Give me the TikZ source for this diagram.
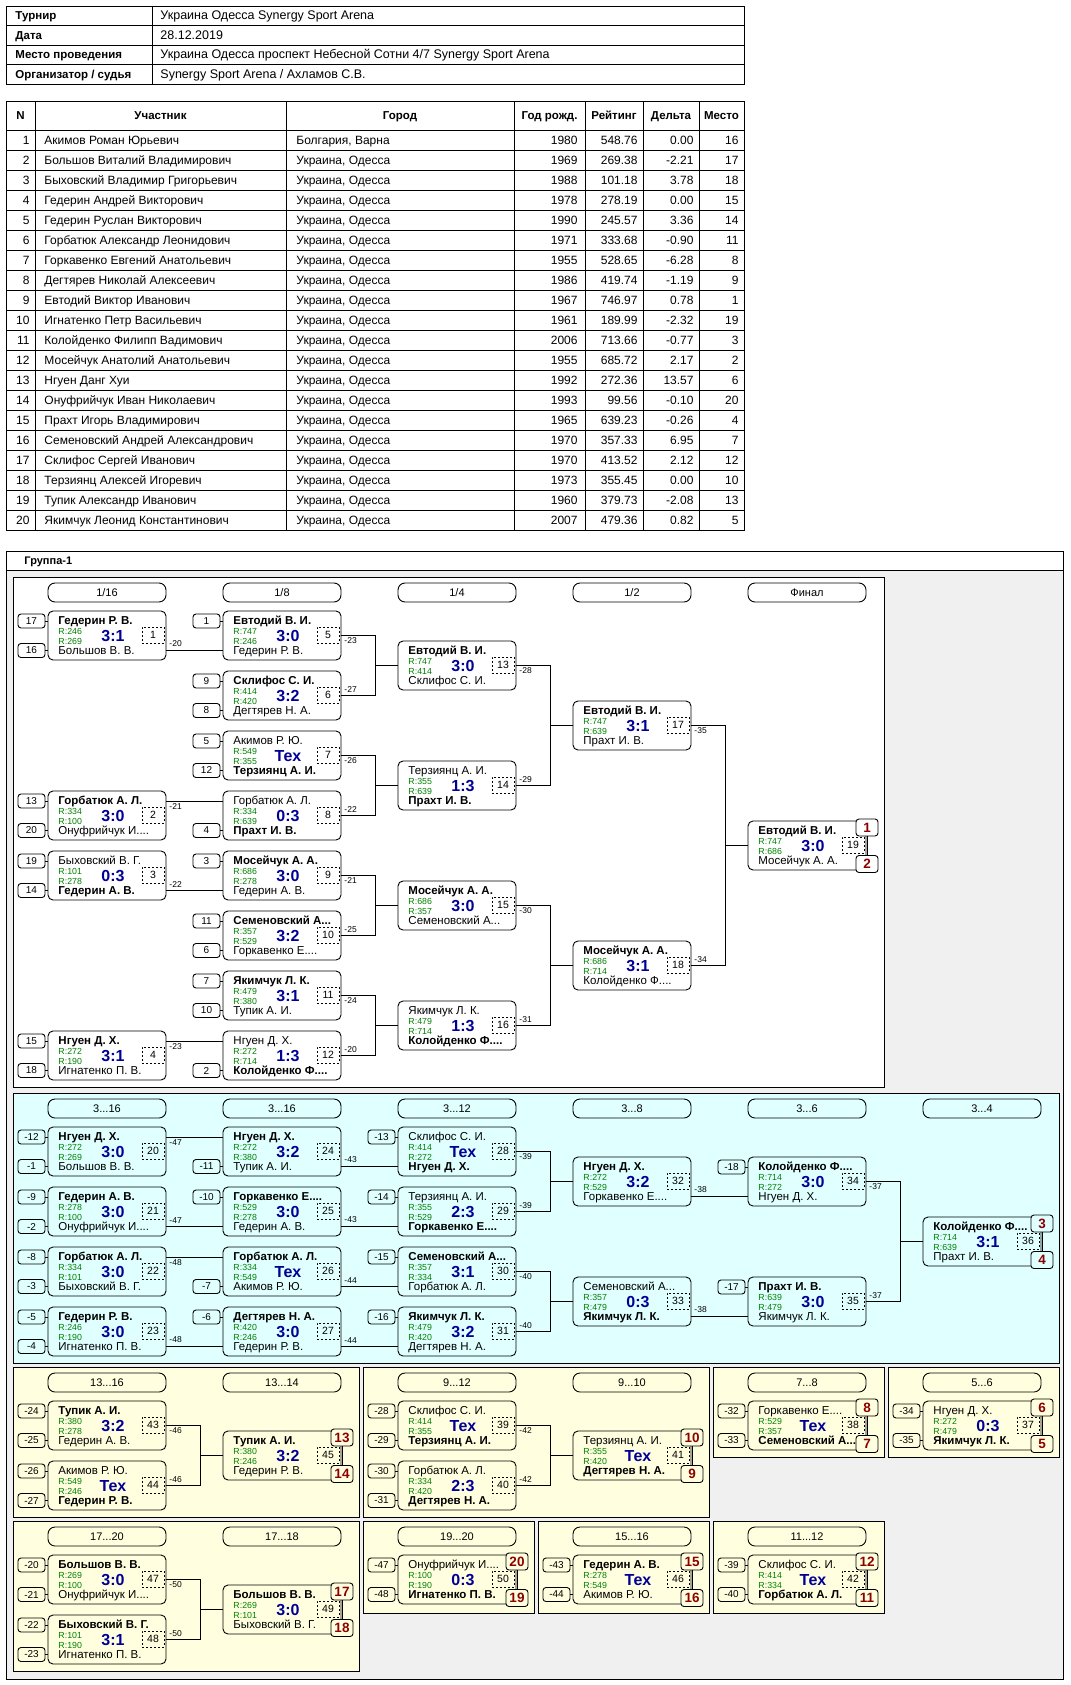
\documentclass[tikz,border=0pt]{standalone}
\usepackage{fontspec}
\setmainfont{Liberation Sans}

\definecolor{gbg}{RGB}{240,240,240}
\definecolor{cbg}{RGB}{224,255,255}
\definecolor{ybg}{RGB}{255,255,224}
\definecolor{rgreen}{RGB}{0,128,0}
\definecolor{sblue}{RGB}{0,0,150}
\definecolor{pred}{RGB}{140,0,0}

\newcommand{\win}[1]{\textbf{#1}}
\newcommand{\game}[9]{%
  \node[game] (#1) at (#2,#3) {};
  \coordinate (#1-tw) at (#2,#3+10);
  \coordinate (#1-bw) at (#2,#3+39);
  \coordinate (#1-te) at (#2+118,#3+10);
  \coordinate (#1-be) at (#2+118,#3+39);
  \node[plr] (#1-p1) at (#2+10,#3+13.5) {#4};
  \node[rat] (#1-r1) at (#2+10,#3+23) {R:#5};
  \node[rat] (#1-r2) at (#2+10,#3+33) {R:#7};
  \node[plr] (#1-p2) at (#2+10,#3+43.5) {#8};
  \node[score] (#1-sc) at (#2+65,#3+30.5) {#6};
  \node[num] (#1-n) at (#2+105,#3+24) {#9};
}
\newcommand{\seedt}[2]{%
  \node[seed] (#1-st) at ([xshift=-16.5pt,yshift=-10pt]#1.north west) {#2};
  \draw (#1-st) -- (#1-st -| #1.west);
}
\newcommand{\seedb}[2]{%
  \node[seed] (#1-sb) at ([xshift=-16.5pt,yshift=9.5pt]#1.south west) {#2};
  \draw (#1-sb) -- (#1-sb -| #1.west);
}
\newcommand{\places}[4]{%
  \node[plc, fill=#4] (#1-pt) at ([xshift=1pt,yshift=-6.5pt]#1.north east) {#2};
  \node[plc, fill=#4] (#1-pb) at ([xshift=1pt,yshift=6pt]#1.south east) {#3};
  \draw (#1-pt) -- (#1-pb);
}
\newcommand{\stage}[4]{\node[stage] (#1) at (#2+59,#3+15.5) {#4};}

\begin{document}
\begin{tikzpicture}[x=1pt, y=-1pt, line width=0.9pt,
  cell/.style={inner sep=0pt, font=\fontsize{12}{14}\selectfont},
  key/.style={inner sep=0pt, anchor=base west, font=\fontsize{11.5}{14}\selectfont\bfseries},
  head/.style={inner sep=0pt, anchor=base, font=\fontsize{11.5}{14}\selectfont\bfseries},
  game/.style={draw, rounded corners=5pt, anchor=north west, minimum width=118pt, minimum height=49pt, inner sep=0pt, outer sep=0pt},
  plr/.style={anchor=base west, inner sep=0pt, font=\fontsize{11.5}{12}\selectfont},
  rat/.style={anchor=base west, inner sep=0pt, text=rgreen, font=\fontsize{8.8}{10}\selectfont},
  score/.style={anchor=base, inner sep=0pt, text=sblue, font=\fontsize{16}{18}\selectfont\bfseries},
  num/.style={draw, dash pattern=on 2pt off 2pt, minimum width=22pt, minimum height=16pt, inner sep=0pt, font=\fontsize{10.5}{12}\selectfont},
  seed/.style={draw, rounded corners=3pt, minimum width=27pt, minimum height=14pt, inner sep=0pt, font=\fontsize{10}{12}\selectfont},
  plc/.style={draw, rounded corners=3pt, minimum width=22pt, minimum height=17pt, inner sep=0pt, text=pred, font=\fontsize{13.5}{15}\selectfont\bfseries},
  stage/.style={draw, rounded corners=7pt, minimum width=118pt, minimum height=19pt, inner sep=0pt, font=\fontsize{11}{12}\selectfont},
  lbla/.style={anchor=south west, inner sep=0pt, xshift=3pt, yshift=2.5pt, font=\fontsize{8.5}{10}\selectfont},
  lblb/.style={anchor=north west, inner sep=0pt, xshift=3pt, yshift=-2pt, font=\fontsize{8.5}{10}\selectfont}]

\useasboundingbox (0,0) rectangle (1070,1685);
\fill[white] (0,0) rectangle (1070,1685);

% tournament info
\draw (6,6) rectangle (744,84);
\foreach \yy in {25.5,45,64.5} \draw (6,\yy) -- (744,\yy);
\draw (152,6) -- (152,84);
\node[key] (k1) at (15,20) {Турнир};
\node[cell, anchor=base west, font=\fontsize{12.5}{14}\selectfont] (v1) at (160,20) {Украина Одесса Synergy Sport Arena};
\node[key] (k2) at (15,39.5) {Дата};
\node[cell, anchor=base west, font=\fontsize{12.5}{14}\selectfont] (v2) at (160,39.5) {28.12.2019};
\node[key] (k3) at (15,59) {Место проведения};
\node[cell, anchor=base west, font=\fontsize{12.5}{14}\selectfont] (v3) at (160,59) {Украина Одесса проспект Небесной Сотни 4/7 Synergy Sport Arena};
\node[key] (k4) at (15,78.5) {Организатор / судья};
\node[cell, anchor=base west, font=\fontsize{12.5}{14}\selectfont] (v4) at (160,78.5) {Synergy Sport Arena / Ахламов С.В.};

% participants
\draw (6,101) rectangle (744,530);
\foreach \k in {0,...,19} \draw (6,130+20*\k) -- (744,130+20*\k);
\foreach \xx in {35,286,514,585,643,699} \draw (\xx,101) -- (\xx,530);
\node[head] (hn) at (20.5,120) {N};
\node[head] (hf) at (160.5,120) {Участник};
\node[head] (hc) at (400,120) {Город};
\node[head] (hy) at (549.5,120) {Год рожд.};
\node[head] (hr) at (614,120) {Рейтинг};
\node[head] (hd) at (671,120) {Дельта};
\node[head] (hp) at (721.5,120) {Место};
\foreach \pn/\pfio/\ptown/\pyear/\prate/\pdelta/\pplace in {
  1/Акимов Роман Юрьевич/{Болгария, Варна}/1980/548.76/0.00/16,
  2/Большов Виталий Владимирович/{Украина, Одесса}/1969/269.38/-2.21/17,
  3/Быховский Владимир Григорьевич/{Украина, Одесса}/1988/101.18/3.78/18,
  4/Гедерин Андрей Викторович/{Украина, Одесса}/1978/278.19/0.00/15,
  5/Гедерин Руслан Викторович/{Украина, Одесса}/1990/245.57/3.36/14,
  6/Горбатюк Александр Леонидович/{Украина, Одесса}/1971/333.68/-0.90/11,
  7/Горкавенко Евгений Анатольевич/{Украина, Одесса}/1955/528.65/-6.28/8,
  8/Дегтярев Николай Алексеевич/{Украина, Одесса}/1986/419.74/-1.19/9,
  9/Евтодий Виктор Иванович/{Украина, Одесса}/1967/746.97/0.78/1,
  10/Игнатенко Петр Васильевич/{Украина, Одесса}/1961/189.99/-2.32/19,
  11/Колойденко Филипп Вадимович/{Украина, Одесса}/2006/713.66/-0.77/3,
  12/Мосейчук Анатолий Анатольевич/{Украина, Одесса}/1955/685.72/2.17/2,
  13/Нгуен Данг Хуи/{Украина, Одесса}/1992/272.36/13.57/6,
  14/Онуфрийчук Иван Николаевич/{Украина, Одесса}/1993/99.56/-0.10/20,
  15/Прахт Игорь Владимирович/{Украина, Одесса}/1965/639.23/-0.26/4,
  16/Семеновский Андрей Александрович/{Украина, Одесса}/1970/357.33/6.95/7,
  17/Склифос Сергей Иванович/{Украина, Одесса}/1970/413.52/2.12/12,
  18/Терзиянц Алексей Игоревич/{Украина, Одесса}/1973/355.45/0.00/10,
  19/Тупик Александр Иванович/{Украина, Одесса}/1960/379.73/-2.08/13,
  20/Якимчук Леонид Константинович/{Украина, Одесса}/2007/479.36/0.82/5}{
  \node[cell, anchor=base east] (n\pn) at (30,124.5+20*\pn) {\pn};
  \node[cell, anchor=base west] (f\pn) at (44,124.5+20*\pn) {\pfio};
  \node[cell, anchor=base west] (c\pn) at (296,124.5+20*\pn) {\ptown};
  \node[cell, anchor=base east] (y\pn) at (578,124.5+20*\pn) {\pyear};
  \node[cell, anchor=base east] (r\pn) at (638,124.5+20*\pn) {\prate};
  \node[cell, anchor=base east] (d\pn) at (694,124.5+20*\pn) {\pdelta};
  \node[cell, anchor=base east] (p\pn) at (739,124.5+20*\pn) {\pplace};
}

% group frame and areas
\draw[fill=gbg] (6,551) rectangle (1063,1679);
\draw[fill=white] (6,551) rectangle (1063,570.5);
\node[anchor=base west, inner sep=0pt, font=\fontsize{11}{12}\selectfont\bfseries] (grp) at (24,564.5) {Группа-1};
\draw[fill=white] (13,577) rectangle (884,1087);
\draw[fill=cbg] (13,1093) rectangle (1059,1363);
\draw[fill=ybg] (13,1367) rectangle (359,1517);
\draw[fill=ybg] (363,1367) rectangle (709,1517);
\draw[fill=ybg] (713,1367) rectangle (884,1457);
\draw[fill=ybg] (888,1367) rectangle (1059,1457);
\draw[fill=ybg] (13,1521) rectangle (359,1671);
\draw[fill=ybg] (363,1521) rectangle (534,1613);
\draw[fill=ybg] (538,1521) rectangle (709,1613);
\draw[fill=ybg] (713,1521) rectangle (884,1613);

% stages
\stage{ma}{48}{577}{1/16}
\stage{mb}{223}{577}{1/8}
\stage{mc}{398}{577}{1/4}
\stage{md}{573}{577}{1/2}
\stage{me}{748}{577}{Финал}
\stage{ca}{48}{1093}{3...16}
\stage{cb}{223}{1093}{3...16}
\stage{cc}{398}{1093}{3...12}
\stage{cd}{573}{1093}{3...8}
\stage{ce}{748}{1093}{3...6}
\stage{cf}{923}{1093}{3...4}
\stage{ya}{48}{1367}{13...16}
\stage{yb}{223}{1367}{13...14}
\stage{yc}{398}{1367}{9...12}
\stage{yd}{573}{1367}{9...10}
\stage{ye}{748}{1367}{7...8}
\stage{yf}{923}{1367}{5...6}
\stage{yg}{48}{1521}{17...20}
\stage{yh}{223}{1521}{17...18}
\stage{yi}{398}{1521}{19...20}
\stage{yj}{573}{1521}{15...16}
\stage{yk}{748}{1521}{11...12}

% main bracket
\game{g1}{48}{611}{\win{Гедерин Р. В.}}{246}{3:1}{269}{Большов В. В.}{1}
\game{g2}{48}{791}{\win{Горбатюк А. Л.}}{334}{3:0}{100}{Онуфрийчук И....}{2}
\game{g3}{48}{851}{Быховский В. Г.}{101}{0:3}{278}{\win{Гедерин А. В.}}{3}
\game{g4}{48}{1031}{\win{Нгуен Д. Х.}}{272}{3:1}{190}{Игнатенко П. В.}{4}
\game{g5}{223}{611}{\win{Евтодий В. И.}}{747}{3:0}{246}{Гедерин Р. В.}{5}
\game{g6}{223}{671}{\win{Склифос С. И.}}{414}{3:2}{420}{Дегтярев Н. А.}{6}
\game{g7}{223}{731}{Акимов Р. Ю.}{549}{Тех}{355}{\win{Терзиянц А. И.}}{7}
\game{g8}{223}{791}{Горбатюк А. Л.}{334}{0:3}{639}{\win{Прахт И. В.}}{8}
\game{g9}{223}{851}{\win{Мосейчук А. А.}}{686}{3:0}{278}{Гедерин А. В.}{9}
\game{g10}{223}{911}{\win{Семеновский А...}}{357}{3:2}{529}{Горкавенко Е....}{10}
\game{g11}{223}{971}{\win{Якимчук Л. К.}}{479}{3:1}{380}{Тупик А. И.}{11}
\game{g12}{223}{1031}{Нгуен Д. Х.}{272}{1:3}{714}{\win{Колойденко Ф....}}{12}
\game{g13}{398}{641}{\win{Евтодий В. И.}}{747}{3:0}{414}{Склифос С. И.}{13}
\game{g14}{398}{761}{Терзиянц А. И.}{355}{1:3}{639}{\win{Прахт И. В.}}{14}
\game{g15}{398}{881}{\win{Мосейчук А. А.}}{686}{3:0}{357}{Семеновский А...}{15}
\game{g16}{398}{1001}{Якимчук Л. К.}{479}{1:3}{714}{\win{Колойденко Ф....}}{16}
\game{g17}{573}{701}{\win{Евтодий В. И.}}{747}{3:1}{639}{Прахт И. В.}{17}
\game{g18}{573}{941}{\win{Мосейчук А. А.}}{686}{3:1}{714}{Колойденко Ф....}{18}
\game{g19}{748}{821}{\win{Евтодий В. И.}}{747}{3:0}{686}{Мосейчук А. А.}{19}
\seedt{g1}{17} \seedb{g1}{16}
\seedt{g2}{13} \seedb{g2}{20}
\seedt{g3}{19} \seedb{g3}{14}
\seedt{g4}{15} \seedb{g4}{18}
\seedt{g5}{1}
\seedt{g6}{9} \seedb{g6}{8}
\seedt{g7}{5} \seedb{g7}{12}
\seedb{g8}{4}
\seedt{g9}{3}
\seedt{g10}{11} \seedb{g10}{6}
\seedt{g11}{7} \seedb{g11}{10}
\seedb{g12}{2}
\places{g19}{1}{2}{white}

\draw (g1-be) node[lbla] (o1) {-20} -- (g5-bw);
\draw (g2-te) node[lblb] (o2) {-21} -- (g8-tw);
\draw (g3-be) node[lbla] (o3) {-22} -- (g9-bw);
\draw (g4-te) node[lblb] (o4) {-23} -- (g12-tw);
\draw (g5.east) node[lblb] (o5) {-23} -- ++(34,0) |- (g13.west);
\draw (g6.east) node[lbla] (o6) {-27} -- ++(34,0) |- (g13.west);
\draw (g7.east) node[lblb] (o7) {-26} -- ++(34,0) |- (g14.west);
\draw (g8.east) node[lbla] (o8) {-22} -- ++(34,0) |- (g14.west);
\draw (g9.east) node[lblb] (o9) {-21} -- ++(34,0) |- (g15.west);
\draw (g10.east) node[lbla] (o10) {-25} -- ++(34,0) |- (g15.west);
\draw (g11.east) node[lblb] (o11) {-24} -- ++(34,0) |- (g16.west);
\draw (g12.east) node[lbla] (o12) {-20} -- ++(34,0) |- (g16.west);
\draw (g13.east) node[lblb] (o13) {-28} -- ++(34,0) |- (g17.west);
\draw (g14.east) node[lbla] (o14) {-29} -- ++(34,0) |- (g17.west);
\draw (g15.east) node[lblb] (o15) {-30} -- ++(34,0) |- (g18.west);
\draw (g16.east) node[lbla] (o16) {-31} -- ++(34,0) |- (g18.west);
\draw (g17.east) node[lblb] (o17) {-35} -- ++(34,0) |- (g19.west);
\draw (g18.east) node[lbla] (o18) {-34} -- ++(34,0) |- (g19.west);

% places 3...16
\game{g20}{48}{1127}{\win{Нгуен Д. Х.}}{272}{3:0}{269}{Большов В. В.}{20}
\game{g21}{48}{1187}{\win{Гедерин А. В.}}{278}{3:0}{100}{Онуфрийчук И....}{21}
\game{g22}{48}{1247}{\win{Горбатюк А. Л.}}{334}{3:0}{101}{Быховский В. Г.}{22}
\game{g23}{48}{1307}{\win{Гедерин Р. В.}}{246}{3:0}{190}{Игнатенко П. В.}{23}
\game{g24}{223}{1127}{\win{Нгуен Д. Х.}}{272}{3:2}{380}{Тупик А. И.}{24}
\game{g25}{223}{1187}{\win{Горкавенко Е....}}{529}{3:0}{278}{Гедерин А. В.}{25}
\game{g26}{223}{1247}{\win{Горбатюк А. Л.}}{334}{Тех}{549}{Акимов Р. Ю.}{26}
\game{g27}{223}{1307}{\win{Дегтярев Н. А.}}{420}{3:0}{246}{Гедерин Р. В.}{27}
\game{g28}{398}{1127}{Склифос С. И.}{414}{Тех}{272}{\win{Нгуен Д. Х.}}{28}
\game{g29}{398}{1187}{Терзиянц А. И.}{355}{2:3}{529}{\win{Горкавенко Е....}}{29}
\game{g30}{398}{1247}{\win{Семеновский А...}}{357}{3:1}{334}{Горбатюк А. Л.}{30}
\game{g31}{398}{1307}{\win{Якимчук Л. К.}}{479}{3:2}{420}{Дегтярев Н. А.}{31}
\game{g32}{573}{1157}{\win{Нгуен Д. Х.}}{272}{3:2}{529}{Горкавенко Е....}{32}
\game{g33}{573}{1277}{Семеновский А...}{357}{0:3}{479}{\win{Якимчук Л. К.}}{33}
\game{g34}{748}{1157}{\win{Колойденко Ф....}}{714}{3:0}{272}{Нгуен Д. Х.}{34}
\game{g35}{748}{1277}{\win{Прахт И. В.}}{639}{3:0}{479}{Якимчук Л. К.}{35}
\game{g36}{923}{1217}{\win{Колойденко Ф....}}{714}{3:1}{639}{Прахт И. В.}{36}
\seedt{g20}{-12} \seedb{g20}{-1}
\seedt{g21}{-9} \seedb{g21}{-2}
\seedt{g22}{-8} \seedb{g22}{-3}
\seedt{g23}{-5} \seedb{g23}{-4}
\seedb{g24}{-11}
\seedt{g25}{-10}
\seedb{g26}{-7}
\seedt{g27}{-6}
\seedt{g28}{-13}
\seedt{g29}{-14}
\seedt{g30}{-15}
\seedt{g31}{-16}
\seedt{g34}{-18}
\seedt{g35}{-17}
\places{g36}{3}{4}{cbg}

\draw (g20-te) node[lblb] (o20) {-47} -- (g24-tw);
\draw (g21-be) node[lbla] (o21) {-47} -- (g25-bw);
\draw (g22-te) node[lblb] (o22) {-48} -- (g26-tw);
\draw (g23-be) node[lbla] (o23) {-48} -- (g27-bw);
\draw (g24-be) node[lbla] (o24) {-43} -- (g28-bw);
\draw (g25-be) node[lbla] (o25) {-43} -- (g29-bw);
\draw (g26-be) node[lbla] (o26) {-44} -- (g30-bw);
\draw (g27-be) node[lbla] (o27) {-44} -- (g31-bw);
\draw (g28.east) node[lblb] (o28) {-39} -- ++(34,0) |- (g32.west);
\draw (g29.east) node[lbla] (o29) {-39} -- ++(34,0) |- (g32.west);
\draw (g30.east) node[lblb] (o30) {-40} -- ++(34,0) |- (g33.west);
\draw (g31.east) node[lbla] (o31) {-40} -- ++(34,0) |- (g33.west);
\draw (g32-be) node[lbla] (o32) {-38} -- (g34-bw);
\draw (g33-be) node[lbla] (o33) {-38} -- (g35-bw);
\draw (g34.east) node[lblb] (o34) {-37} -- ++(34,0) |- (g36.west);
\draw (g35.east) node[lbla] (o35) {-37} -- ++(34,0) |- (g36.west);

% lower places
\game{g43}{48}{1401}{\win{Тупик А. И.}}{380}{3:2}{278}{Гедерин А. В.}{43}
\game{g44}{48}{1461}{Акимов Р. Ю.}{549}{Тех}{246}{\win{Гедерин Р. В.}}{44}
\game{g45}{223}{1431}{\win{Тупик А. И.}}{380}{3:2}{246}{Гедерин Р. В.}{45}
\game{g39}{398}{1401}{Склифос С. И.}{414}{Тех}{355}{\win{Терзиянц А. И.}}{39}
\game{g40}{398}{1461}{Горбатюк А. Л.}{334}{2:3}{420}{\win{Дегтярев Н. А.}}{40}
\game{g41}{573}{1431}{Терзиянц А. И.}{355}{Тех}{420}{\win{Дегтярев Н. А.}}{41}
\game{g38}{748}{1401}{Горкавенко Е....}{529}{Тех}{357}{\win{Семеновский А...}}{38}
\game{g37}{923}{1401}{Нгуен Д. Х.}{272}{0:3}{479}{\win{Якимчук Л. К.}}{37}
\game{g47}{48}{1555}{\win{Большов В. В.}}{269}{3:0}{100}{Онуфрийчук И....}{47}
\game{g48}{48}{1615}{\win{Быховский В. Г.}}{101}{3:1}{190}{Игнатенко П. В.}{48}
\game{g49}{223}{1585}{\win{Большов В. В.}}{269}{3:0}{101}{Быховский В. Г.}{49}
\game{g50}{398}{1555}{Онуфрийчук И....}{100}{0:3}{190}{\win{Игнатенко П. В.}}{50}
\game{g46}{573}{1555}{\win{Гедерин А. В.}}{278}{Тех}{549}{Акимов Р. Ю.}{46}
\game{g42}{748}{1555}{Склифос С. И.}{414}{Тех}{334}{\win{Горбатюк А. Л.}}{42}
\seedt{g43}{-24} \seedb{g43}{-25}
\seedt{g44}{-26} \seedb{g44}{-27}
\seedt{g39}{-28} \seedb{g39}{-29}
\seedt{g40}{-30} \seedb{g40}{-31}
\seedt{g38}{-32} \seedb{g38}{-33}
\seedt{g37}{-34} \seedb{g37}{-35}
\seedt{g47}{-20} \seedb{g47}{-21}
\seedt{g48}{-22} \seedb{g48}{-23}
\seedt{g50}{-47} \seedb{g50}{-48}
\seedt{g46}{-43} \seedb{g46}{-44}
\seedt{g42}{-39} \seedb{g42}{-40}
\places{g45}{13}{14}{ybg}
\places{g41}{10}{9}{ybg}
\places{g38}{8}{7}{ybg}
\places{g37}{6}{5}{ybg}
\places{g49}{17}{18}{ybg}
\places{g50}{20}{19}{ybg}
\places{g46}{15}{16}{ybg}
\places{g42}{12}{11}{ybg}

\draw (g43.east) node[lblb] (o43) {-46} -- ++(34,0) |- (g45.west);
\draw (g44.east) node[lbla] (o44) {-46} -- ++(34,0) |- (g45.west);
\draw (g39.east) node[lblb] (o39) {-42} -- ++(34,0) |- (g41.west);
\draw (g40.east) node[lbla] (o40) {-42} -- ++(34,0) |- (g41.west);
\draw (g47.east) node[lblb] (o47) {-50} -- ++(34,0) |- (g49.west);
\draw (g48.east) node[lbla] (o48) {-50} -- ++(34,0) |- (g49.west);
\end{tikzpicture}
\end{document}
